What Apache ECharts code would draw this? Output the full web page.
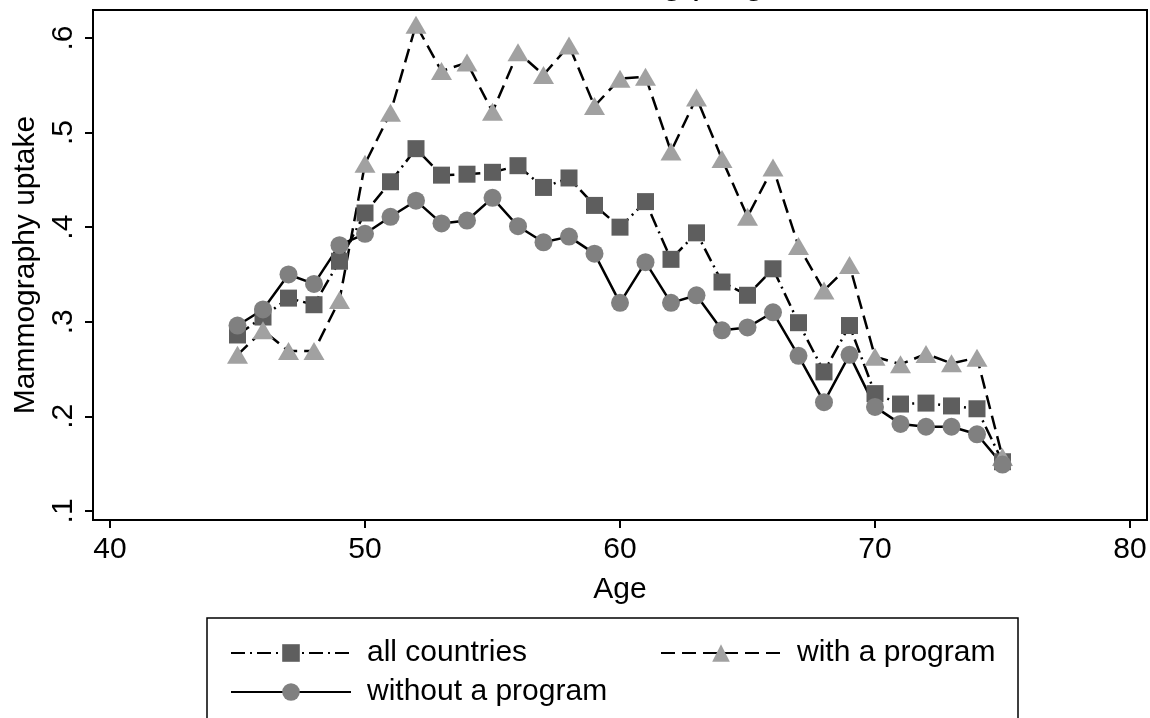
<!DOCTYPE html>
<html>
<head>
<meta charset="utf-8">
<script src="https://cdn.jsdelivr.net/npm/echarts@6/dist/echarts.min.js"></script>
<style>
  html, body { margin: 0; padding: 0; background: #ffffff; }
  #chart { width: 1150px; height: 718px; }
</style>
</head>
<body>
<div id="chart"></div>
<script>
// Mammography uptake by single year of age, 45–75
const ages = [45, 46, 47, 48, 49, 50, 51, 52, 53, 54, 55, 56, 57, 58, 59, 60,
              61, 62, 63, 64, 65, 66, 67, 68, 69, 70, 71, 72, 73, 74, 75];

const allCountries = [0.286, 0.305, 0.325, 0.318, 0.364, 0.415, 0.448, 0.483, 0.455, 0.456,
                      0.458, 0.465, 0.442, 0.452, 0.423, 0.400, 0.427, 0.366, 0.394, 0.342,
                      0.328, 0.356, 0.299, 0.247, 0.296, 0.224, 0.213, 0.214, 0.211, 0.208, 0.152];

const withProgram = [0.265, 0.291, 0.269, 0.269, 0.323, 0.467, 0.521, 0.614, 0.565, 0.574,
                     0.522, 0.585, 0.561, 0.592, 0.528, 0.557, 0.559, 0.480, 0.537, 0.472,
                     0.411, 0.463, 0.380, 0.333, 0.360, 0.263, 0.255, 0.266, 0.256, 0.262, 0.157];

const withoutProgram = [0.296, 0.313, 0.350, 0.340, 0.381, 0.393, 0.411, 0.428, 0.404, 0.407,
                        0.431, 0.401, 0.384, 0.390, 0.372, 0.320, 0.363, 0.320, 0.328, 0.291,
                        0.294, 0.310, 0.264, 0.215, 0.265, 0.210, 0.192, 0.189, 0.189, 0.181, 0.149];

const seriesNames = ['all countries', 'with a program', 'without a program'];

const xTicks = [40, 50, 60, 70, 80];
const yTicks = [0.1, 0.2, 0.3, 0.4, 0.5, 0.6];
const yTickLabels = ['.1', '.2', '.3', '.4', '.5', '.6'];

const titleText = 'Countries with and without a screening program';
const xTitle = 'Age';
const yTitle = 'Mammography uptake';

const FONT = 'Liberation Sans, Arial, Helvetica, sans-serif';

const pairs = arr => ages.map((a, i) => [a, arr[i]]);

// shared look of both legend columns
const legendBase = {
  orient: 'vertical',
  top: 638,
  padding: 0,
  itemGap: 9,
  itemWidth: 120,
  itemHeight: 22,
  textStyle: { color: '#000', fontSize: 30, fontFamily: FONT, padding: [0, 0, 0, 11] }
};

const chart = echarts.init(document.getElementById('chart'), null, { renderer: 'canvas' });

chart.setOption({
  animation: false,
  backgroundColor: '#ffffff',
  textStyle: { fontFamily: FONT },
  graphic: [
    {
      type: 'text',
      x: 826,
      y: -17,
      style: {
        text: titleText,
        fill: '#000000',
        font: '36px ' + FONT,
        textAlign: 'right',
        textVerticalAlign: 'middle'
      }
    },
    {
      // legend frame
      type: 'rect',
      shape: { x: 207, y: 618, width: 811, height: 120 },
      style: { fill: '#ffffff', stroke: '#000000', lineWidth: 1.5 },
      z: -1
    }
  ],
  grid: {
    left: 93,
    right: 3,
    top: 10,
    bottom: 198,
    show: true,
    borderColor: '#000000',
    borderWidth: 2,
    backgroundColor: '#ffffff'
  },
  xAxis: {
    type: 'value',
    min: 39.333,
    max: 80.667,
    name: xTitle,
    nameLocation: 'middle',
    nameGap: 55,
    nameTextStyle: { color: '#000', fontSize: 30, fontFamily: FONT },
    splitLine: { show: false },
    axisLine: { show: true, onZero: false, lineStyle: { color: '#000', width: 2 } },
    axisTick: { show: true, length: 8, lineStyle: { color: '#000', width: 2 }, customValues: xTicks },
    axisLabel: { color: '#000', fontSize: 30, fontFamily: FONT, margin: 15, customValues: xTicks }
  },
  yAxis: {
    type: 'value',
    min: 0.0904,
    max: 0.6296,
    name: yTitle,
    nameLocation: 'middle',
    nameGap: 46,
    nameTextStyle: { color: '#000', fontSize: 30, fontFamily: FONT },
    splitLine: { show: false },
    axisLine: { show: true, onZero: false, lineStyle: { color: '#000', width: 2 } },
    axisTick: { show: true, length: 8, lineStyle: { color: '#000', width: 2 }, customValues: yTicks },
    axisLabel: {
      color: '#000', fontSize: 30, fontFamily: FONT, margin: 14, rotate: 90,
      customValues: yTicks,
      formatter: v => {
        const i = yTicks.findIndex(t => Math.abs(t - v) < 1e-9);
        return i >= 0 ? yTickLabels[i] : '';
      }
    }
  },
  legend: [
    Object.assign({}, legendBase, { left: 230, data: [seriesNames[0], seriesNames[2]] }),
    Object.assign({}, legendBase, { left: 660, data: [seriesNames[1]] })
  ],
  series: [
    {
      name: seriesNames[0],
      type: 'line',
      data: pairs(allCountries),
      symbol: 'rect',
      symbolSize: 17,
      showAllSymbol: true,
      lineStyle: { color: '#000', width: 2.5, type: [14, 5, 2, 5] },
      itemStyle: { color: '#5e5e5e' },
      emphasis: { disabled: true }
    },
    {
      name: seriesNames[1],
      type: 'line',
      data: pairs(withProgram),
      symbol: 'triangle',
      symbolSize: [21, 18],
      showAllSymbol: true,
      lineStyle: { color: '#000', width: 2.5, type: [14, 7] },
      itemStyle: { color: '#a1a1a1' },
      emphasis: { disabled: true }
    },
    {
      name: seriesNames[2],
      type: 'line',
      data: pairs(withoutProgram),
      symbol: 'circle',
      symbolSize: 18,
      showAllSymbol: true,
      lineStyle: { color: '#000', width: 2.5, type: 'solid' },
      itemStyle: { color: '#808080' },
      emphasis: { disabled: true }
    }
  ]
});
</script>
</body>
</html>
